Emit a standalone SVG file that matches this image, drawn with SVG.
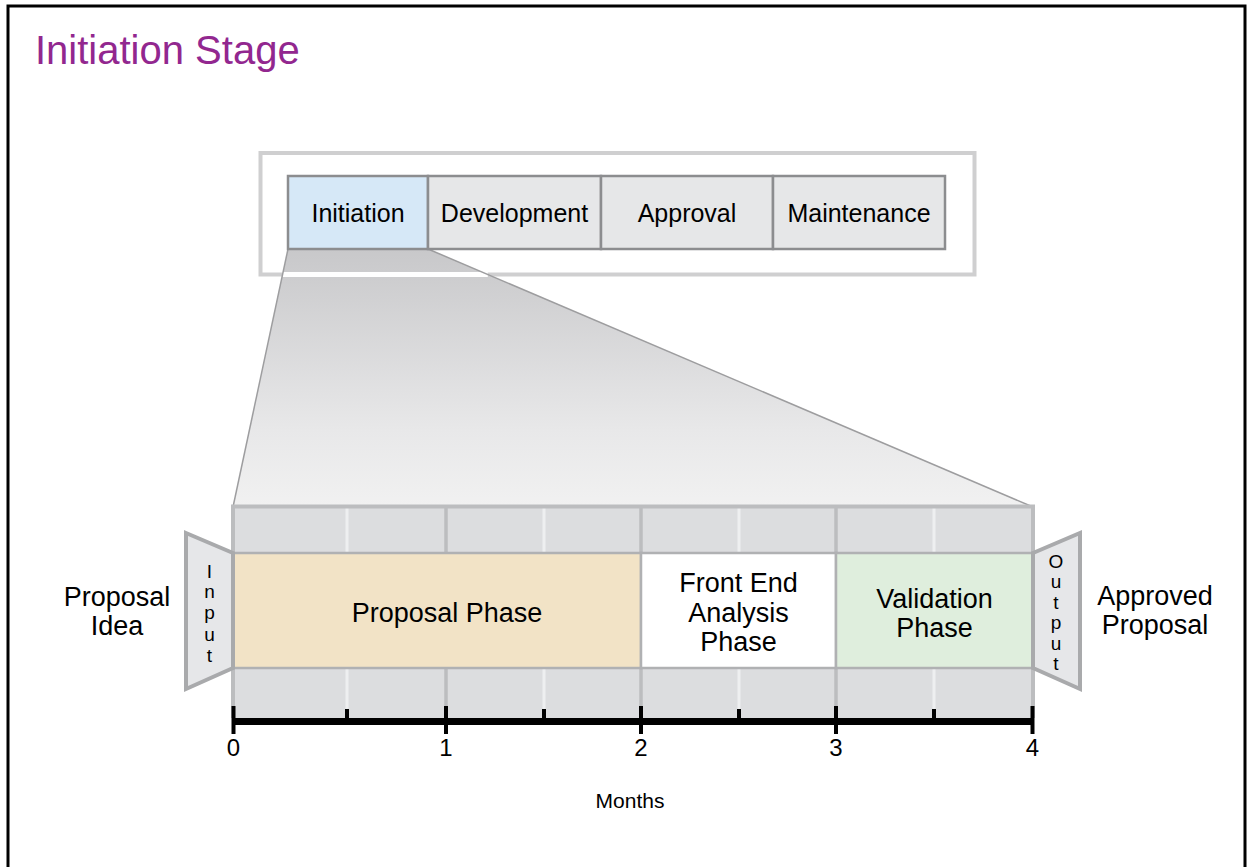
<svg xmlns="http://www.w3.org/2000/svg" width="1248" height="867" viewBox="0 0 1248 867">
<defs>
<linearGradient id="fanGrad" x1="0" y1="249" x2="0" y2="507" gradientUnits="userSpaceOnUse">
<stop offset="0" stop-color="#c8c8ca"/>
<stop offset="0.7" stop-color="#e8e8e9"/>
<stop offset="1" stop-color="#f1f1f1"/>
</linearGradient>
<style>
text{font-family:"Liberation Sans",Arial,sans-serif;fill:#000;}
.cell{stroke:#8c8d8f;stroke-width:2.5;}
.lbl{font-size:25px;text-anchor:middle;}
.ph{font-size:27px;text-anchor:middle;}
.side{font-size:27px;text-anchor:middle;}
.vl{font-size:19px;text-anchor:middle;}
.num{font-size:24px;text-anchor:middle;}
.mline{stroke:#bcbdbf;stroke-width:3.5;}
.hline{stroke:#eeeff0;stroke-width:3;}
.tick{stroke:#000;stroke-width:4;}
.trap{fill:#e6e7e9;stroke:#a9aaac;stroke-width:4;stroke-linejoin:miter;}
</style>
</defs>
<rect x="0" y="0" width="1248" height="867" fill="#fff"/>
<path d="M8,867 V6 H1245 V867" fill="none" stroke="#000" stroke-width="3"/>
<text x="35" y="63.5" style="font-size:40px;fill:#92278f">Initiation Stage</text>

<!-- top stage box -->
<g id="stage-box">
<rect x="260.5" y="153" width="714" height="121.5" fill="none" stroke="#cfcfd0" stroke-width="4"/>
</g>

<!-- zoom fan -->
<g id="fan">
<polygon points="288,249 428,249 1033,507 233,507" fill="url(#fanGrad)"/>
<line x1="282.5" y1="274.5" x2="487.8" y2="274.5" stroke="#fff" stroke-width="5"/>
<line x1="288" y1="249" x2="233" y2="507" stroke="#9d9d9f" stroke-width="1.5"/>
<line x1="428" y1="249" x2="1033" y2="507" stroke="#9d9d9f" stroke-width="1.5"/>
</g>

<g id="node-initiation">
<rect class="cell" x="288" y="176" width="140" height="73" fill="#d6e8f7"/>
<text class="lbl" x="358" y="222">Initiation</text>
</g>
<g id="node-development">
<rect class="cell" x="428" y="176" width="173" height="73" fill="#e6e7e8"/>
<text class="lbl" x="514.5" y="222">Development</text>
</g>
<g id="node-approval">
<rect class="cell" x="601" y="176" width="172" height="73" fill="#e6e7e8"/>
<text class="lbl" x="687" y="222">Approval</text>
</g>
<g id="node-maintenance">
<rect class="cell" x="773" y="176" width="172" height="73" fill="#e6e7e8"/>
<text class="lbl" x="859" y="222">Maintenance</text>
</g>

<!-- timeline grid -->
<g id="grid">
<rect x="233" y="506.5" width="800" height="212" fill="#dcdddf"/>
<line class="hline" x1="347" y1="508" x2="347" y2="718"/>
<line class="hline" x1="544" y1="508" x2="544" y2="718"/>
<line class="hline" x1="739" y1="508" x2="739" y2="718"/>
<line class="hline" x1="934" y1="508" x2="934" y2="718"/>
<line class="mline" x1="446" y1="508" x2="446" y2="718"/>
<line class="mline" x1="641" y1="508" x2="641" y2="718"/>
<line class="mline" x1="836" y1="508" x2="836" y2="718"/>
<path d="M233,718 V506.5 H1033 V718" fill="none" stroke="#bcbdbf" stroke-width="4"/>
</g>

<g id="node-proposal-phase">
<rect x="233" y="553" width="408" height="115" fill="#f2e3c6" stroke="#b0b1b3" stroke-width="2.5"/>
<text class="ph" x="447" y="622">Proposal Phase</text>
</g>
<g id="node-front-end">
<rect x="641" y="553" width="195" height="115" fill="#ffffff" stroke="#b0b1b3" stroke-width="2.5"/>
<text class="ph" x="738.5" y="592">Front End</text>
<text class="ph" x="738.5" y="621.5">Analysis</text>
<text class="ph" x="738.5" y="651">Phase</text>
</g>
<g id="node-validation">
<rect x="836" y="553" width="197" height="115" fill="#dfeedd" stroke="#b0b1b3" stroke-width="2.5"/>
<text class="ph" x="934.5" y="608">Validation</text>
<text class="ph" x="934.5" y="637">Phase</text>
</g>

<!-- input / output -->
<g id="node-input">
<polygon class="trap" points="186,533 233,553 233,668 186,689"/>
<text class="vl" x="209.5" y="578">I</text>
<text class="vl" x="209.5" y="598">n</text>
<text class="vl" x="209.5" y="619">p</text>
<text class="vl" x="209.5" y="641">u</text>
<text class="vl" x="209.5" y="662">t</text>
</g>
<g id="node-output">
<polygon class="trap" points="1033,553 1080,533 1080,689 1033,668"/>
<text class="vl" x="1056" y="568">O</text>
<text class="vl" x="1056" y="588">u</text>
<text class="vl" x="1056" y="608.5">t</text>
<text class="vl" x="1056" y="629">p</text>
<text class="vl" x="1056" y="650">u</text>
<text class="vl" x="1056" y="670">t</text>
</g>

<g id="node-proposal-idea">
<text class="side" x="117" y="606">Proposal</text>
<text class="side" x="117" y="635">Idea</text>
</g>
<g id="node-approved-proposal">
<text class="side" x="1155" y="605">Approved</text>
<text class="side" x="1155" y="634">Proposal</text>
</g>

<!-- axis -->
<g id="axis">
<line x1="233" y1="721.5" x2="1033" y2="721.5" stroke="#000" stroke-width="7"/>
<line class="tick" x1="233.5" y1="706" x2="233.5" y2="734"/>
<line class="tick" x1="446" y1="706" x2="446" y2="734"/>
<line class="tick" x1="641" y1="706" x2="641" y2="734"/>
<line class="tick" x1="836" y1="706" x2="836" y2="734"/>
<line class="tick" x1="1032.5" y1="706" x2="1032.5" y2="734"/>
<line class="tick" x1="347" y1="709" x2="347" y2="720"/>
<line class="tick" x1="544" y1="709" x2="544" y2="720"/>
<line class="tick" x1="739" y1="709" x2="739" y2="720"/>
<line class="tick" x1="934" y1="709" x2="934" y2="720"/>
<text class="num" x="233.5" y="756">0</text>
<text class="num" x="446" y="756">1</text>
<text class="num" x="641" y="756">2</text>
<text class="num" x="836" y="756">3</text>
<text class="num" x="1032.5" y="756">4</text>
<text x="630" y="808" style="font-size:21px;text-anchor:middle">Months</text>
</g>
</svg>
